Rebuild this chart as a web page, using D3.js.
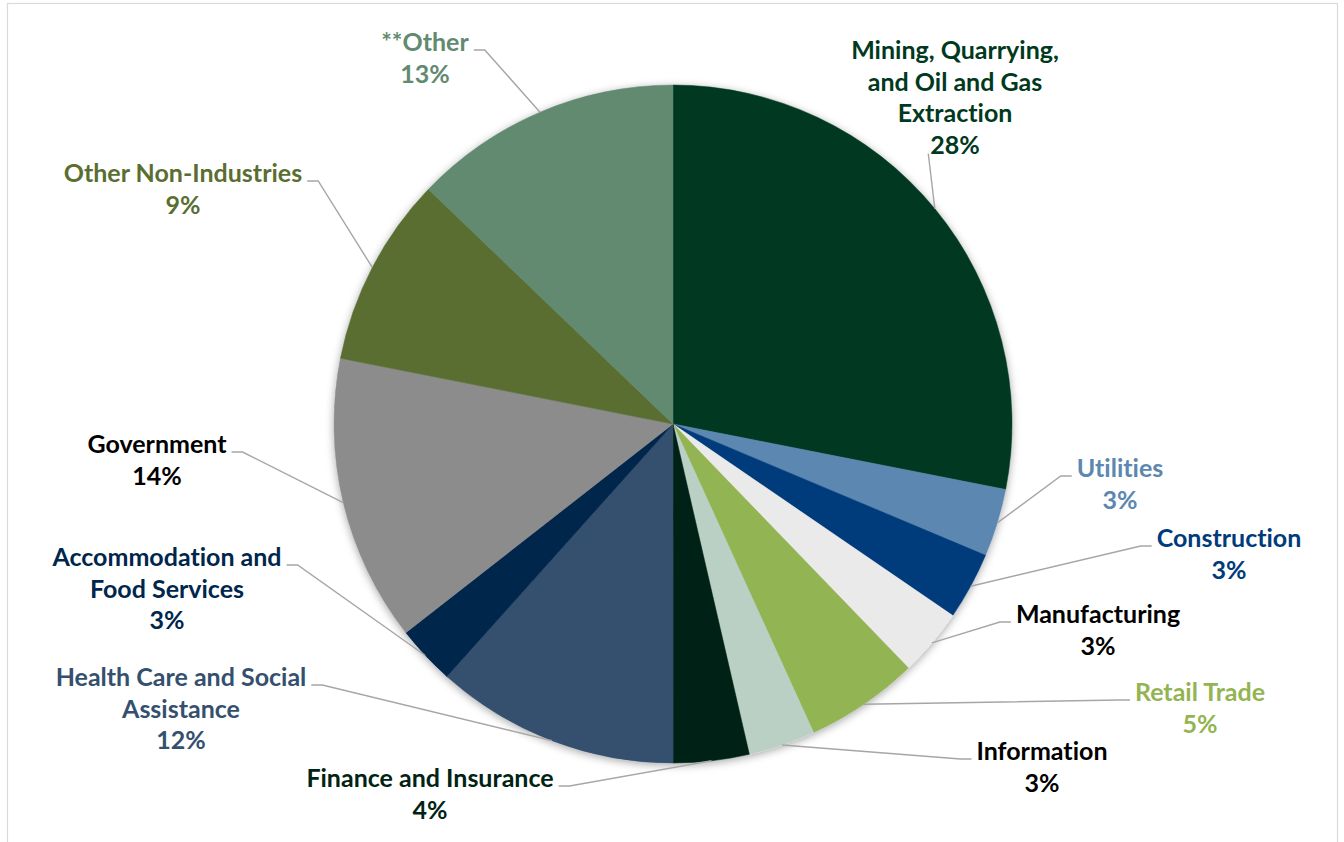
<!DOCTYPE html>
<html>
<head>
<meta charset="utf-8">
<script src="https://cdn.jsdelivr.net/npm/d3@7"></script>
<style>
    body { margin: 0; background: #fff; }
    text { font-family: Lato, "Open Sans", sans-serif; font-weight: bold; font-variant-ligatures: none; }
</style>
</head>
<body>
<div id="chart"></div>
<script>
// slice data, clockwise from 12 o'clock
var categories = ["Mining, Quarrying, and Oil and Gas Extraction", "Utilities", "Construction",
    "Manufacturing", "Retail Trade", "Information", "Finance and Insurance",
    "Health Care and Social Assistance", "Accommodation and Food Services", "Government",
    "Other Non-Industries", "**Other"];
var shares = [28.09, 3.24, 3.22, 3.23, 5.41, 3.19, 3.61, 11.63, 2.82, 13.66, 9.06, 12.83];
var pctLabels = ["28%", "3%", "3%", "3%", "5%", "3%", "4%", "12%", "3%", "14%", "9%", "13%"];
// how each category name wraps in its label
var labelLines = [
    ["Mining, Quarrying,", "and Oil and Gas", "Extraction"],
    ["Utilities"], ["Construction"], ["Manufacturing"], ["Retail Trade"], ["Information"],
    ["Finance and Insurance"], ["Health Care and Social", "Assistance"],
    ["Accommodation and", "Food Services"], ["Government"], ["Other Non-Industries"], ["**Other"]
];
var sliceColors = ["#003920", "#5B87B0", "#003B7C", "#EAEAEA", "#93B452", "#BBD0C5",
    "#002314", "#34506E", "#00264C", "#8C8C8C", "#5A6E32", "#628A70"];
var labelColors = ["#003920", "#5B87B0", "#003B7C", "#000000", "#93B452", "#000000",
    "#002314", "#34506E", "#00264C", "#000000", "#5A6E32", "#628A70"];

// label placement (centre x, first baseline y) and side the leader leaves from
var labelPos = [
    { x: 955, y: 59, side: "bottom" },
    { x: 1120, y: 477, side: "left" },
    { x: 1229, y: 547, side: "left" },
    { x: 1098, y: 623, side: "left" },
    { x: 1200, y: 701, side: "left" },
    { x: 1042, y: 760, side: "left" },
    { x: 430, y: 787, side: "right" },
    { x: 181, y: 686, side: "right" },
    { x: 167, y: 566, side: "right" },
    { x: 157, y: 453, side: "right" },
    { x: 183, y: 182, side: "right" },
    { x: 425, y: 51, side: "right" }
];

var width = 1344, height = 842;
var cx = 673, cy = 424, radius = 339;
var lineH = 31.5;
var fontSize = 25;

var svg = d3.select("#chart").append("svg")
    .attr("width", width)
    .attr("height", height);

// chart area border
svg.append("rect")
    .attr("x", 7.5).attr("y", 3.5)
    .attr("width", 1330).attr("height", 860)
    .attr("fill", "#fff")
    .attr("stroke", "#D9D9D9")
    .attr("stroke-width", 1.2);

var defs = svg.append("defs");
var filt = defs.append("filter").attr("id", "shadow")
    .attr("x", "-10%").attr("y", "-10%").attr("width", "120%").attr("height", "120%");
filt.append("feDropShadow")
    .attr("dx", 0).attr("dy", 2)
    .attr("stdDeviation", 4)
    .attr("flood-color", "#000")
    .attr("flood-opacity", 0.35);

var data = categories.map(function (c, i) {
    return { name: c, value: shares[i], pct: pctLabels[i], lines: labelLines[i],
        fill: sliceColors[i], color: labelColors[i], pos: labelPos[i] };
});

var pie = d3.pie().sort(null).value(function (d) { return d.value; });
var arc = d3.arc().innerRadius(0).outerRadius(radius);
var edgeArc = d3.arc().innerRadius(radius).outerRadius(radius);
var arcs = pie(data);

var g = svg.append("g").attr("transform", "translate(" + cx + "," + cy + ")");

g.append("g")
    .attr("filter", "url(#shadow)")
    .selectAll("path")
    .data(arcs)
    .enter()
    .append("path")
    .attr("d", arc)
    .attr("fill", function (d) { return d.data.fill; })
    .attr("stroke", function (d) { return d.data.fill; })
    .attr("stroke-width", 0.5);

// leader lines: short horizontal stub off the label, then to the slice edge midpoint
g.append("g")
    .selectAll("polyline")
    .data(arcs)
    .enter()
    .append("polyline")
    .attr("fill", "none")
    .attr("stroke", "#A6A6A6")
    .attr("stroke-width", 1.4)
    .attr("points", function (d) {
        var p = d.data.pos;
        var nameW = textWidth(d.data.lines[0]);
        var edge = edgeArc.centroid(d);
        var pts;
        if (p.side === "bottom") {
            var pw = textWidth(d.data.pct);
            var bx = p.x - pw / 2 - 2 - cx;
            var by = p.y + lineH * (d.data.lines.length) - cy;
            pts = [[bx, by], edge];
        } else {
            var dir = p.side === "right" ? 1 : -1;
            var sx = p.x + dir * (nameW / 2 + 5) - cx;
            var sy = p.y - 1 - cy;
            pts = [[sx, sy], [sx + dir * 11, sy], edge];
        }
        return pts.map(function (q) { return q.join(","); }).join(" ");
    });

var labels = svg.append("g")
    .selectAll("text")
    .data(data)
    .enter()
    .append("text")
    .attr("class", "lbl")
    .attr("text-anchor", "middle")
    .attr("font-size", fontSize)
    .attr("fill", function (d) { return d.color; });

labels.each(function (d) {
    var t = d3.select(this);
    d.lines.concat([d.pct]).forEach(function (line, k) {
        t.append("tspan")
            .attr("x", d.pos.x)
            .attr("y", d.pos.y + k * lineH)
            .text(line);
    });
});

function textWidth(s) {
    var t = svg.append("text").attr("font-size", fontSize).text(s);
    var w = t.node().getComputedTextLength();
    t.remove();
    return w;
}
</script>
</body>
</html>
